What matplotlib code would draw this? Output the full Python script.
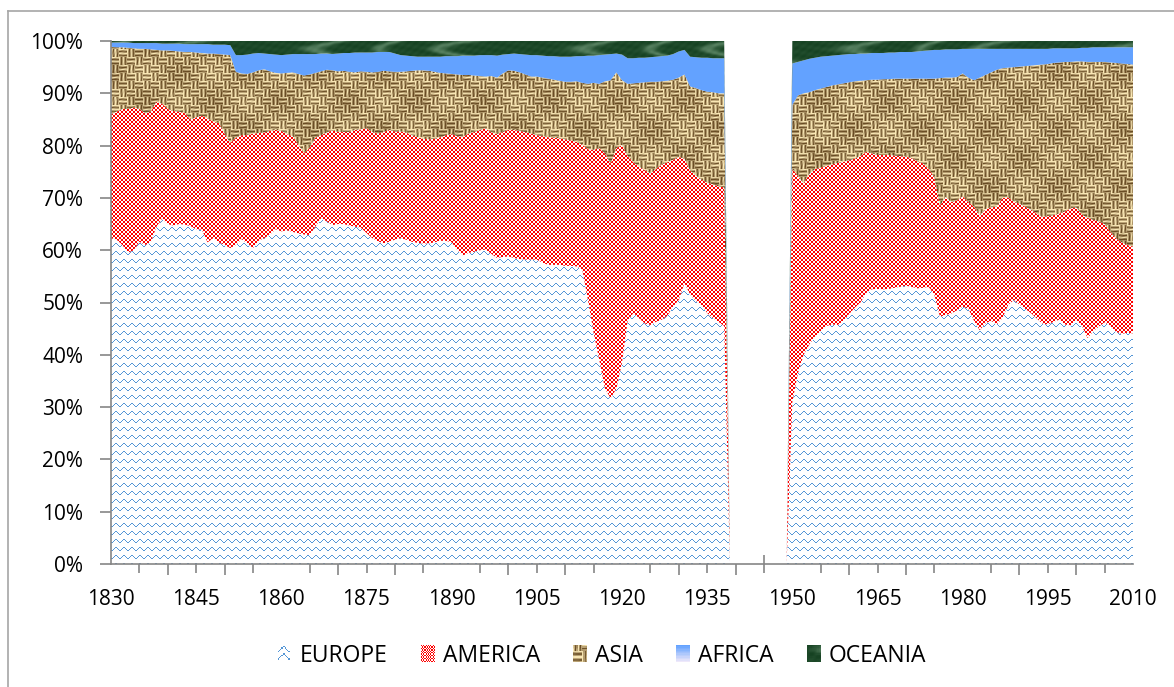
import numpy as np
import matplotlib
matplotlib.use("Agg")
import matplotlib.pyplot as plt
from matplotlib.path import Path
from matplotlib.legend_handler import HandlerBase
from matplotlib.image import BboxImage
from matplotlib.transforms import Bbox, TransformedBbox
from matplotlib.patches import Patch
from matplotlib.lines import Line2D

# ---------------- data (share of total, %) ----------------
years_a = list(range(1830, 1939))   # first period
years_b = list(range(1950, 2011))   # second period

europe_a = [62.3, 62.0, 61.0, 59.5, 60.0, 61.6, 61.0, 61.5, 64.5, 66.0,
            65.0, 64.7, 65.0, 64.9, 64.6, 64.0, 63.9, 61.5, 62.3, 61.5,
            61.0, 60.4, 61.0, 62.1, 61.3, 60.4, 61.8, 62.3, 63.0, 64.0,
            63.6, 63.8, 63.5, 63.2, 63.0, 62.9, 64.5, 66.1, 65.5, 64.8,
            65.0, 65.0, 64.7, 64.5, 64.3, 63.3, 62.3, 61.7, 61.3, 61.6,
            62.0, 62.3, 62.0, 61.6, 61.4, 61.3, 61.3, 61.5, 61.8, 61.8,
            61.5, 60.0, 59.0, 59.5, 59.7, 60.0, 60.1, 59.3, 58.5, 58.7,
            58.8, 58.5, 58.3, 58.2, 58.2, 58.2, 57.6, 57.2, 57.2, 57.2,
            57.0, 57.0, 56.9, 56.3, 50.5, 44.2, 39.0, 33.5, 31.7, 33.5,
            38.5, 46.5, 48.0, 47.0, 46.0, 45.7, 46.3, 46.7, 47.5, 49.2,
            50.5, 53.7, 51.5, 50.3, 49.5, 48.0, 47.0, 46.3, 45.5]
america_a = [23.7, 24.5, 26.0, 27.5, 27.3, 25.4, 25.2, 25.0, 23.9, 22.0,
             22.0, 21.9, 21.5, 21.3, 20.4, 21.4, 21.8, 23.7, 22.3, 22.8,
             21.3, 20.1, 20.5, 19.9, 20.7, 21.9, 20.6, 20.2, 19.8, 19.0,
             19.2, 18.4, 18.3, 17.0, 15.5, 16.7, 17.0, 15.9, 17.0, 18.1,
             17.6, 17.6, 17.9, 18.5, 18.8, 20.0, 20.3, 20.6, 21.3, 21.4,
             20.7, 20.4, 20.5, 20.4, 20.2, 20.0, 19.9, 19.8, 19.8, 20.2,
             20.7, 21.8, 22.7, 22.8, 22.9, 23.0, 23.2, 23.2, 23.7, 23.9,
             24.2, 24.5, 24.5, 24.4, 24.1, 23.8, 24.2, 24.4, 24.3, 24.2,
             24.2, 24.0, 23.8, 23.9, 28.8, 35.0, 40.5, 45.0, 44.9, 46.0,
             41.6, 31.5, 28.8, 29.0, 29.3, 29.0, 29.2, 29.7, 29.3, 28.1,
             27.3, 23.8, 23.7, 24.0, 24.0, 24.9, 25.6, 25.9, 26.5]
asia_a = [12.9, 12.3, 11.8, 11.7, 11.3, 11.5, 12.3, 11.9, 9.9, 10.2,
          11.2, 11.5, 11.5, 11.7, 12.9, 12.4, 12.0, 12.4, 13.0, 13.2,
          15.1, 16.8, 12.6, 11.8, 11.7, 11.7, 12.0, 12.1, 11.4, 10.9,
          11.0, 11.7, 12.2, 13.5, 14.9, 14.0, 12.4, 12.2, 12.0, 11.5,
          11.6, 11.7, 11.5, 11.0, 11.1, 10.8, 11.4, 11.8, 11.7, 11.2,
          11.4, 11.4, 11.7, 12.3, 12.8, 13.1, 13.1, 12.8, 12.3, 11.8,
          11.5, 11.8, 11.8, 11.2, 10.8, 10.3, 9.9, 10.8, 10.8, 11.2,
          11.4, 11.3, 11.2, 11.0, 10.9, 11.2, 11.2, 11.2, 11.1, 11.0,
          11.0, 11.2, 11.6, 11.8, 12.5, 12.8, 12.3, 13.8, 15.9, 14.5,
          12.4, 13.8, 15.1, 16.0, 16.8, 17.5, 16.7, 15.9, 15.6, 15.3,
          15.2, 16.1, 16.1, 16.7, 17.1, 17.4, 17.6, 17.8, 18.0]
africa_a = [0.8, 0.9, 0.9, 1.0, 1.0, 1.1, 1.1, 1.2, 1.3, 1.3,
            1.3, 1.4, 1.5, 1.5, 1.5, 1.6, 1.7, 1.8, 1.7, 1.8,
            1.9, 1.9, 3.2, 3.5, 3.7, 3.6, 3.3, 3.0, 3.3, 3.5,
            3.5, 3.5, 3.5, 3.8, 4.1, 3.9, 3.6, 3.4, 3.1, 3.1,
            3.4, 3.4, 3.6, 3.8, 3.6, 3.7, 3.8, 3.8, 3.6, 3.7,
            3.5, 3.2, 3.0, 2.8, 2.6, 2.6, 2.7, 2.9, 3.1, 3.3,
            3.4, 3.5, 3.7, 3.7, 3.8, 4.0, 4.1, 4.0, 4.2, 3.6,
            3.1, 3.3, 3.5, 3.8, 4.1, 4.1, 4.2, 4.3, 4.5, 4.6,
            4.8, 4.8, 4.8, 5.1, 5.4, 5.2, 5.5, 5.1, 5.0, 3.6,
            4.9, 4.9, 4.8, 4.8, 4.7, 4.7, 4.8, 4.8, 4.8, 4.9,
            5.0, 4.7, 5.7, 5.9, 6.2, 6.5, 6.5, 6.7, 6.7]
oceania_a = [0.3, 0.3, 0.3, 0.3, 0.4, 0.4, 0.4, 0.4, 0.4, 0.5,
             0.5, 0.5, 0.5, 0.6, 0.6, 0.6, 0.6, 0.6, 0.7, 0.7,
             0.7, 0.8, 2.7, 2.7, 2.6, 2.4, 2.3, 2.4, 2.5, 2.6,
             2.7, 2.6, 2.5, 2.5, 2.5, 2.5, 2.5, 2.4, 2.4, 2.5,
             2.4, 2.3, 2.3, 2.2, 2.2, 2.2, 2.2, 2.1, 2.1, 2.1,
             2.4, 2.7, 2.8, 2.9, 3.0, 3.0, 3.0, 3.0, 3.0, 2.9,
             2.9, 2.9, 2.8, 2.8, 2.8, 2.7, 2.7, 2.7, 2.8, 2.6,
             2.5, 2.4, 2.5, 2.6, 2.7, 2.7, 2.8, 2.9, 2.9, 3.0,
             3.0, 3.0, 2.9, 2.9, 2.8, 2.8, 2.7, 2.6, 2.5, 2.4,
             2.6, 3.3, 3.3, 3.2, 3.2, 3.1, 3.0, 2.9, 2.8, 2.5,
             2.0, 1.7, 3.0, 3.1, 3.2, 3.2, 3.3, 3.3, 3.3]

europe_b = [31.0, 36.5, 40.0, 42.0, 43.5, 44.5, 45.5, 45.8, 45.7, 46.5,
            47.8, 49.0, 50.0, 51.8, 52.5, 52.6, 52.5, 52.6, 52.8, 53.0,
            53.2, 53.0, 52.7, 52.8, 53.0, 51.5, 47.3, 47.6, 47.9, 48.5,
            49.2, 48.8, 46.5, 44.7, 46.0, 46.5, 45.8, 47.0, 49.5, 50.5,
            49.6, 48.8, 48.0, 47.0, 46.0, 45.8, 46.3, 46.7, 45.8, 45.6,
            46.7, 45.5, 43.2, 44.5, 45.4, 46.2, 45.5, 44.4, 44.0, 44.2,
            44.1]
america_b = [44.5, 37.7, 32.8, 32.6, 32.0, 31.3, 30.6, 30.6, 31.0, 30.4,
             29.4, 28.5, 28.0, 27.0, 26.0, 25.6, 25.7, 25.6, 25.3, 25.0,
             24.7, 24.6, 24.3, 23.8, 22.5, 22.5, 21.2, 22.6, 21.3, 21.0,
             21.1, 20.4, 21.8, 22.0, 21.8, 21.7, 22.5, 23.0, 20.6, 18.8,
             19.3, 19.5, 19.8, 20.0, 20.4, 20.7, 20.4, 20.3, 21.6, 22.4,
             21.5, 21.3, 23.0, 21.3, 20.1, 18.8, 18.0, 17.9, 17.5, 16.8,
             16.6]
asia_b = [12.3, 15.4, 17.2, 15.6, 15.1, 15.1, 15.1, 15.1, 15.0, 15.0,
          14.9, 14.8, 14.4, 13.7, 14.1, 14.4, 14.5, 14.5, 14.7, 14.8,
          14.9, 15.2, 15.8, 16.2, 17.3, 18.8, 24.4, 22.8, 23.8, 23.6,
          23.5, 23.8, 24.2, 26.3, 25.7, 25.8, 26.2, 24.8, 24.8, 25.7,
          26.2, 26.9, 27.5, 28.4, 29.1, 29.1, 29.1, 28.9, 28.6, 28.0,
          27.9, 29.3, 29.8, 30.2, 30.5, 31.0, 32.4, 33.5, 34.2, 34.6,
          34.8]
africa_b = [7.9, 6.4, 6.3, 6.4, 6.2, 6.1, 5.9, 5.7, 5.6, 5.5,
            5.4, 5.2, 5.2, 5.1, 5.1, 5.1, 5.0, 5.1, 5.0, 5.1,
            5.1, 5.1, 5.2, 5.3, 5.4, 5.5, 5.4, 5.4, 5.4, 5.3,
            4.7, 5.5, 6.0, 5.5, 5.0, 4.5, 4.0, 3.7, 3.6, 3.5,
            3.4, 3.3, 3.2, 3.1, 3.0, 2.9, 2.8, 2.7, 2.6, 2.6,
            2.5, 2.6, 2.7, 2.8, 2.8, 2.8, 2.9, 3.0, 3.1, 3.2,
            3.3]
oceania_b = [4.3, 4.0, 3.7, 3.4, 3.2, 3.0, 2.9, 2.8, 2.7, 2.6,
             2.5, 2.5, 2.4, 2.4, 2.3, 2.3, 2.3, 2.2, 2.2, 2.1,
             2.1, 2.1, 2.0, 1.9, 1.8, 1.7, 1.7, 1.6, 1.6, 1.6,
             1.5, 1.5, 1.5, 1.5, 1.5, 1.5, 1.5, 1.5, 1.5, 1.5,
             1.5, 1.5, 1.5, 1.5, 1.5, 1.5, 1.4, 1.4, 1.4, 1.4,
             1.4, 1.3, 1.3, 1.2, 1.2, 1.2, 1.2, 1.2, 1.2, 1.2,
             1.2]

series_names = ["EUROPE", "AMERICA", "ASIA", "AFRICA", "OCEANIA"]
x_tick_labels = [str(y) for y in range(1830, 2011, 15)]
y_tick_labels = [f"{v}%" for v in range(0, 101, 10)]

# ---------------- build table (missing years 1939-1949 -> empty) ----------------
all_years = np.arange(1830, 2011)
series_a = [europe_a, america_a, asia_a, africa_a, oceania_a]
series_b = [europe_b, america_b, asia_b, africa_b, oceania_b]
table = np.zeros((5, len(all_years)))
for k in range(5):
    for y, v in zip(years_a, series_a[k]):
        table[k, y - 1830] = v
    for y, v in zip(years_b, series_b[k]):
        table[k, y - 1830] = v
tot = table.sum(axis=0)
share = np.where(tot > 0, table / np.where(tot > 0, tot, 1) * 100, 0)

# ---------------- figure ----------------
W_PX, H_PX, DPI = 1174, 687, 100
fig = plt.figure(figsize=(W_PX / DPI, H_PX / DPI), dpi=DPI)
FONT = "Open Sans"
plt.rcParams["font.family"] = [FONT, "DejaVu Sans"]

ax_l, ax_r, ax_t, ax_b = 111, 1133, 41, 564
ax = fig.add_axes([ax_l / W_PX, 1 - ax_b / H_PX, (ax_r - ax_l) / W_PX, (ax_b - ax_t) / H_PX])
ax.set_xlim(1830, 2010)
ax.set_ylim(0, 100)

polys = ax.stackplot(all_years, share, linewidth=0)

# ---------------- textures ----------------
TW, TH = ax_r - ax_l, ax_b - ax_t
ii, jj = np.mgrid[0:TH, 0:TW]

def rgb(c):
    return np.array(c, dtype=float) / 255.0

BLUE = rgb((84, 150, 214))
RED = rgb((255, 0, 0))

# Europe: white with blue stepped waves (8x8 tile)
wave = [3, 3, 2, 1, 0, 0, 1, 2]
tile = np.zeros((8, 8), bool)
for x in range(8):
    tile[wave[x] + 2, x] = True
mask_eu = tile[ii % 8, jj % 8]
tex_eu = np.ones((TH, TW, 3))
tex_eu[mask_eu] = BLUE

# America: red / white small checkerboard
mask_am = ((ii // 2 + jj // 2) % 2 == 0)
tex_am = np.ones((TH, TW, 3))
tex_am[mask_am] = RED

# Asia: burlap-like basket weave
b = 8
horiz = ((ii // b + jj // b) % 2 == 0)
across = np.where(horiz, ii % b, jj % b)
along = np.where(horiz, jj, ii)
t = 0.5 + 0.42 * np.cos(2 * np.pi * across / (b / 2.0))
t += 0.14 * np.sin(along * 0.8 + across * 2.1) * np.sin(ii * 0.13 + jj * 0.07)
t += 0.12 * np.sin(ii * 0.11 + 1.3) * np.cos(jj * 0.093)
t = np.clip(t, 0, 1)[..., None]
dark, light = rgb((105, 76, 36)), rgb((250, 232, 182))
tex_as = dark + (light - dark) * t

# Africa: light blue
tex_af = np.ones((TH, TW, 3)) * rgb((99, 162, 255))

# Oceania: dark green marble
g = 0.5 + 0.5 * np.sin(jj * 0.07 + 2.0 * np.sin(ii * 0.21) + 2.0 * np.sin(jj * 0.023))
g = 0.55 * g ** 6 + 0.12 * (0.5 + 0.5 * np.sin(ii * 0.9 + jj * 0.31) * np.sin(jj * 0.47))
g = np.clip(g, 0, 1)[..., None]
gd, gl = rgb((22, 66, 34)), rgb((120, 160, 128))
tex_oc = gd + (gl - gd) * g

textures = [tex_eu, tex_am, tex_as, tex_af, tex_oc]

for k, (coll, tex) in enumerate(zip(polys, textures)):
    coll.set_facecolor("none")
    coll.set_edgecolor("none")
    path = Path.make_compound_path(*coll.get_paths())
    im = ax.imshow(tex, extent=(1830, 2010, 0, 100), origin="upper",
                   interpolation="nearest", aspect="auto", zorder=1 + k * 0.01)
    im.set_clip_path(path, transform=ax.transData)

ax.set_xlim(1830, 2010)
ax.set_ylim(0, 100)

# ---------------- axes styling ----------------
GREY = "#868686"
for s in ["top", "right"]:
    ax.spines[s].set_visible(False)
for s in ["left", "bottom"]:
    ax.spines[s].set_color(GREY)
    ax.spines[s].set_linewidth(1.2)
    ax.spines[s].set_zorder(5)

ax.set_yticks(range(0, 101, 10))
ax.set_yticklabels(y_tick_labels)
ax.tick_params(axis="y", direction="out", length=8, width=1.2, color=GREY,
               labelsize=15, pad=12, labelcolor="black")

# x labels every 15 years (no tick line)
ax.set_xticks(range(1830, 2011, 15))
ax.set_xticklabels(x_tick_labels)
ax.tick_params(axis="x", which="major", length=0, labelsize=15, pad=18, labelcolor="black")
# tick marks every 10 years (outside)
ax.set_xticks(range(1830, 2011, 10), minor=True)
ax.tick_params(axis="x", which="minor", direction="out", length=8, width=1.2, color=GREY)
# crossing ticks at the in-between 5 years
sec = ax.secondary_xaxis(0)
sec.set_xticks(range(1835, 2010, 10))
sec.tick_params(axis="x", direction="inout", length=13, width=1.2, color=GREY, labelbottom=False)
sec.spines["bottom"].set_visible(False)

# ---------------- legend with texture icons ----------------
class ImgHandler(HandlerBase):
    def __init__(self, img):
        super().__init__()
        self.img = img

    def create_artists(self, legend, orig_handle, xdescent, ydescent, width, height, fontsize, trans):
        bb = Bbox.from_bounds(-xdescent, -ydescent, width, height)
        bim = BboxImage(TransformedBbox(bb, trans), interpolation="nearest")
        bim.set_data(self.img)
        return [bim]

icon_eu = np.ones((14, 12, 3))
for r0 in (1, 7):
    for x in range(12):
        yy = [4, 3, 2, 1, 0, 0, 1, 2, 3, 4, 4, 4][x]
        if x < 10:
            icon_eu[r0 + yy, x] = BLUE
ci, cj = np.mgrid[0:12, 0:12]
icon_am = np.ones((12, 12, 3))
icon_am[((ci + cj) % 2 == 0)] = RED
icon_as = tex_as[100:112, 200:212]
grad = np.linspace(0, 1, 12)[:, None, None]
icon_af = rgb((99, 162, 255)) * (1 - grad) + rgb((238, 232, 250)) * grad
icon_af = np.repeat(icon_af, 12, axis=1)
icon_oc = tex_oc[5:17, 40:52]

handles = [Patch(label=n) for n in series_names]
icons = [icon_eu, icon_am, icon_as, icon_af, icon_oc]
hmap = {h: ImgHandler(ic) for h, ic in zip(handles, icons)}
leg = fig.legend(handles=handles, labels=series_names, handler_map=hmap, ncol=5,
                 loc="center", bbox_to_anchor=(602 / W_PX, 1 - 656 / H_PX),
                 frameon=False, fontsize=16.5, handlelength=0.6, handleheight=0.7,
                 handletextpad=0.35, columnspacing=1.45)

# ---------------- chart border ----------------
fig.add_artist(Line2D([8 / W_PX, 1.0], [1 - 11 / H_PX, 1 - 11 / H_PX], color="#A6A6A6", lw=1.2))
fig.add_artist(Line2D([8 / W_PX, 8 / W_PX], [0, 1 - 11 / H_PX], color="#A6A6A6", lw=1.2))

fig.savefig("out.png", dpi=DPI)
